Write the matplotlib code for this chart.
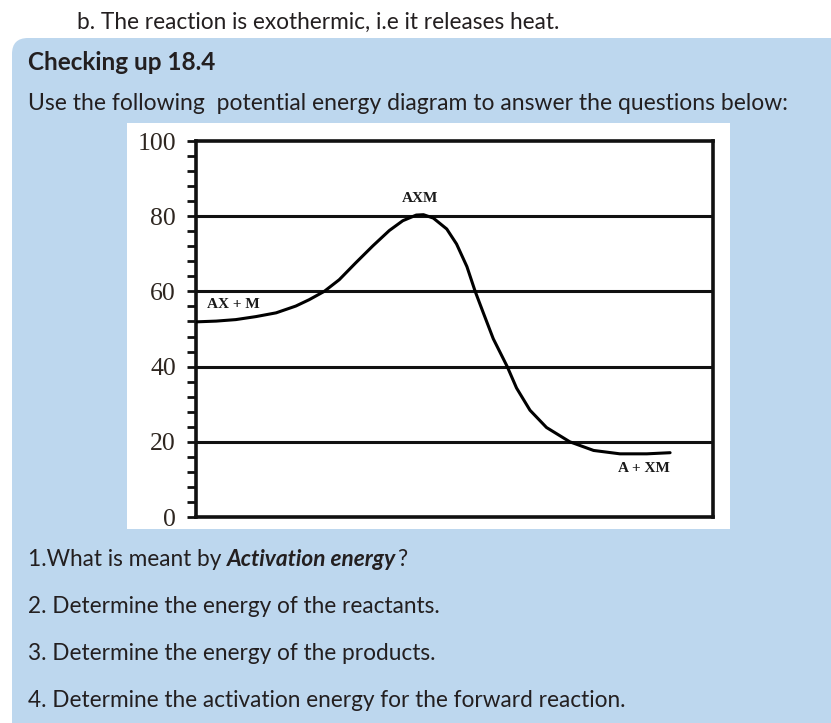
import matplotlib
matplotlib.use("Agg")
import matplotlib.pyplot as plt
from matplotlib.patches import FancyBboxPatch, Rectangle
from matplotlib.ticker import MultipleLocator

# curve (reaction coordinate 0-100, energy)
curve_x = [0, 3.9, 7.7, 11.6, 15.5, 19.3, 21.9, 24.8, 27.7, 30.9, 34.2, 37.4,
           40.0, 42.6, 44.0, 45.9, 48.5, 50.4, 52.4, 54.0, 55.6, 57.5, 60.2,
           62.0, 64.6, 67.8, 72.3, 76.9, 82.0, 87.2, 91.7]
curve_y = [51.9, 52.1, 52.5, 53.3, 54.3, 56.1, 57.8, 60.0, 63.1, 67.6, 72.1, 76.2,
           78.8, 80.3, 80.4, 79.5, 76.6, 72.6, 66.6, 60.0, 54.2, 47.4, 40.0,
           34.3, 28.4, 23.8, 20.0, 17.7, 16.8, 16.8, 17.1]

y_ticks = [0, 20, 40, 60, 80, 100]
grid_levels = [20, 40, 60, 80]

labels = ["AX + M", "AXM", "A + XM"]
label_x = [2.1, 43.3, 91.7]
label_y = [56.4, 84.8, 13.0]

header = "b. The reaction is exothermic, i.e it releases heat."
box_title = "Checking up 18.4"
box_intro = "Use the following  potential energy diagram to answer the questions below:"
questions = [
    ("1.What is meant by ", "Activation energy", "?"),
    ("2. Determine the energy of the reactants.", "", ""),
    ("3. Determine the energy of the products.", "", ""),
    ("4. Determine the activation energy for the forward reaction.", "", ""),
]

W, H = 831, 723
TXT = "#231f20"
BLUE = "#bdd7ee"
SANS = "Lato"
FS = 16.3

fig = plt.figure(figsize=(W / 100, H / 100), dpi=100)
fig.patch.set_facecolor("white")

# page layer in pixel coordinates
bg = fig.add_axes([0, 0, 1, 1])
bg.set_xlim(0, W)
bg.set_ylim(H, 0)
bg.axis("off")

bg.add_patch(FancyBboxPatch((12, 38), 900, 700, boxstyle="round,pad=0,rounding_size=16",
                            facecolor=BLUE, edgecolor="none"))
bg.add_patch(Rectangle((127, 123), 603, 406, facecolor="white", edgecolor="none"))

bg.text(77, 29, header, fontsize=FS, family=SANS, color=TXT, va="baseline")
bg.text(28, 70, box_title, fontsize=17.5, family=SANS, weight="bold", color=TXT, va="baseline")
bg.text(28, 110, box_intro, fontsize=FS + 0.2, family=SANS, color=TXT, va="baseline")

renderer = fig.canvas.get_renderer()
q_base = [566, 613, 660, 707]
for (a, b, c), yb in zip(questions, q_base):
    t = bg.text(28, yb, a, fontsize=FS, family=SANS, color=TXT, va="baseline")
    if b:
        ext = t.get_window_extent(renderer)
        t2 = bg.text(ext.x1, H - yb, b, fontsize=FS, family=SANS, weight="bold", style="italic",
                     color=TXT, va="baseline", transform=None)
        ext2 = t2.get_window_extent(renderer)
        bg.text(ext2.x1 + 1, H - yb, c, fontsize=FS, family=SANS, color=TXT,
                va="baseline", transform=None)

# the diagram
ax = fig.add_axes([196 / W, (H - 517) / H, 517 / W, 376 / H])
ax.set_xlim(0, 100)
ax.set_ylim(0, 100)
ax.set_facecolor("white")

for g in grid_levels:
    ax.axhline(g, color="#111111", lw=2.2, zorder=1)

ax.plot(curve_x, curve_y, color="black", lw=2.2, solid_capstyle="round",
        solid_joinstyle="round", zorder=3)

ax.text(label_x[0], label_y[0], labels[0], family="Liberation Serif", weight="bold",
        fontsize=11, ha="left", va="center", color="#1a1a1a")
ax.text(label_x[1], label_y[1], labels[1], family="Liberation Serif", weight="bold",
        fontsize=11, ha="center", va="center", color="#1a1a1a")
ax.text(label_x[2], label_y[2], labels[2], family="Liberation Serif", weight="bold",
        fontsize=11, ha="right", va="center", color="#1a1a1a")

ax.set_xticks([])
ax.set_yticks(y_ticks)
ax.yaxis.set_minor_locator(MultipleLocator(4))
ax.tick_params(axis="y", which="both", direction="out", length=6.5, width=2, color="#111111")
ax.tick_params(axis="y", which="major", pad=8, labelsize=18.5, labelcolor="#2e2620")
for lab in ax.get_yticklabels():
    lab.set_family("Liberation Serif")
for s in ax.spines.values():
    s.set_linewidth(2.6)
    s.set_color("#111111")

fig.savefig("out.png", dpi=100)
